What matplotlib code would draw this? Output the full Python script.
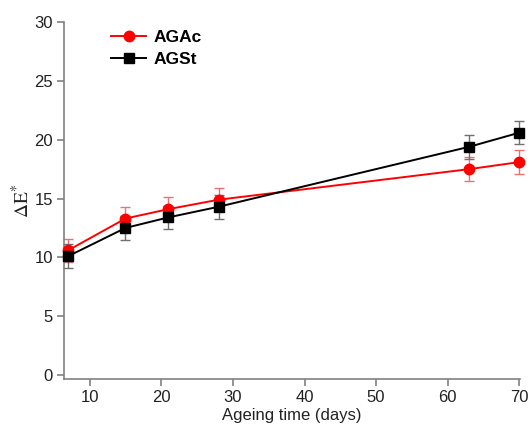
import matplotlib.pyplot as plt
import numpy as np

plt.rcParams['font.family'] = ['Liberation Sans', 'DejaVu Sans']
plt.rcParams['mathtext.fontset'] = 'stix'

# Data
days = [7, 15, 21, 28, 63, 70]
agac = [10.6, 13.3, 14.1, 14.9, 17.5, 18.1]
agac_err = [1.0, 1.0, 1.0, 1.0, 1.0, 1.05]
agst = [10.1, 12.5, 13.4, 14.3, 19.4, 20.6]
agst_err = [1.0, 1.0, 1.0, 1.0, 1.0, 1.0]

fig = plt.figure(figsize=(5.28, 4.25), dpi=100)
ax = fig.add_axes([0.121, 0.108, 0.864, 0.840])

# Error bars (lighter) then lines with markers
ax.errorbar(days, agac, yerr=agac_err, fmt='none', ecolor='#f07070', elinewidth=1,
            capsize=3.5, capthick=1, clip_on=False, zorder=2)
ax.errorbar(days, agst, yerr=agst_err, fmt='none', ecolor='#707070', elinewidth=1,
            capsize=3.5, capthick=1, clip_on=False, zorder=2)
ax.plot(days, agac, color='#ff0000', marker='o', markersize=7.5, linewidth=1.4,
        label='AGAc', clip_on=False, zorder=3)
ax.plot(days, agst, color='black', marker='s', markersize=7, linewidth=1.4,
        label='AGSt', clip_on=False, zorder=4)

ax.set_xlim(6.4, 70.1)
ax.set_ylim(-0.35, 30)
ax.set_xticks([10, 20, 30, 40, 50, 60, 70])
ax.set_yticks([0, 5, 10, 15, 20, 25, 30])

for side in ['top', 'right']:
    ax.spines[side].set_visible(False)
for side in ['left', 'bottom']:
    ax.spines[side].set_color('#808080')
    ax.spines[side].set_linewidth(1.2)
ax.tick_params(axis='both', colors='#808080', labelcolor='#222222', labelsize=12,
               length=5, width=1.2, direction='out', pad=3)

ax.set_xlabel('Ageing time (days)', fontsize=12, color='#222222', labelpad=2)
ax.set_ylabel(r'$\Delta\mathrm{E}^{*}$', fontsize=14, color='#222222', labelpad=1)

leg = ax.legend(loc='upper left', bbox_to_anchor=(0.07, 1.022), frameon=False,
                prop={'weight': 'bold', 'size': 12.5}, handlelength=2.0,
                handletextpad=0.4, labelspacing=0.42)

fig.savefig('out.png', dpi=100)
